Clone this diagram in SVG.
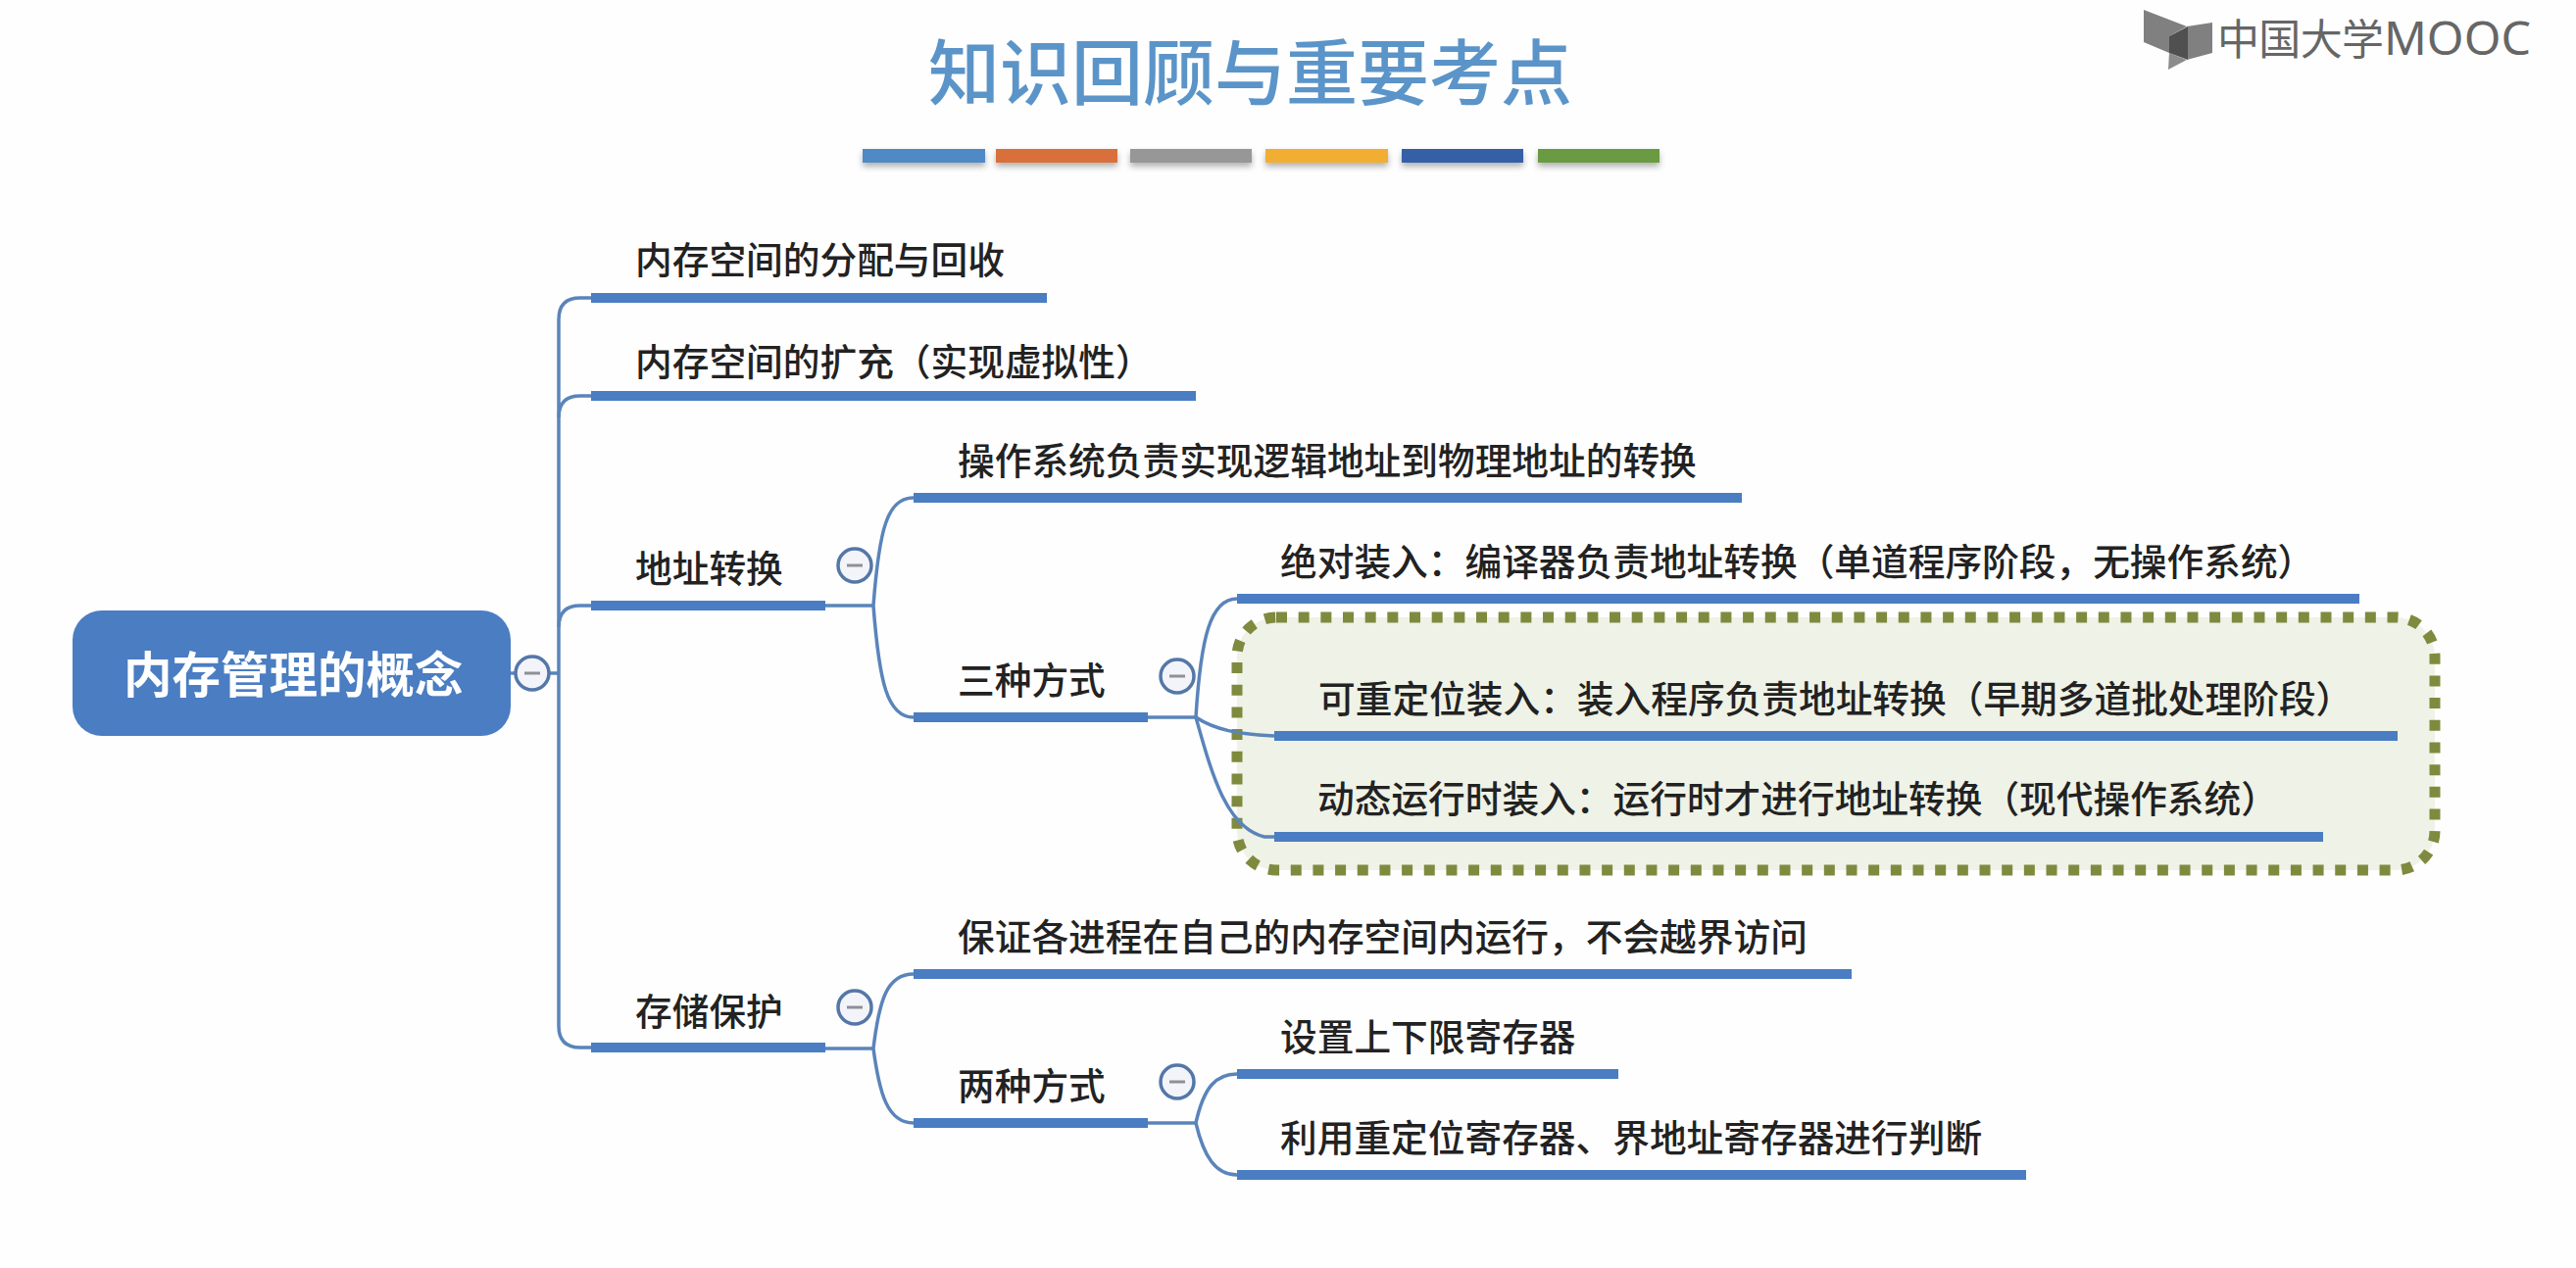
<svg xmlns="http://www.w3.org/2000/svg" width="2628" height="1294" viewBox="0 0 2628 1294">
<style>
text{font-family:"Noto Sans CJK SC","Noto Sans",sans-serif;}
.t{font-size:37.7px;fill:#222;font-weight:500;}
.bar{fill:none;stroke:#4a7dc2;stroke-width:10;}
.c{fill:none;stroke:#5a84ba;stroke-width:3.5;}
.tog{fill:#f3f4f9;stroke:#5477a8;stroke-width:3.5;}
.m{stroke:#8f8f96;stroke-width:3;}
</style>
<defs>
<filter id="sh" x="-10%" y="-50%" width="120%" height="220%"><feDropShadow dx="0" dy="4" stdDeviation="3" flood-color="#000" flood-opacity="0.3"/></filter>
</defs>
<rect width="2628" height="1294" fill="#fefefe"/>
<g id="title">
<text x="947" y="101" font-size="73" fill="#5b94c8" font-weight="500">知识回顾与重要考点</text>
<g filter="url(#sh)">
<rect x="880" y="152" width="125" height="14" fill="#4f8ac5"/>
<rect x="1016" y="152" width="124" height="14" fill="#d9703a"/>
<rect x="1153" y="152" width="124" height="14" fill="#979797"/>
<rect x="1291" y="152" width="125" height="14" fill="#f2ae33"/>
<rect x="1430" y="152" width="124" height="14" fill="#3560a8"/>
<rect x="1569" y="152" width="124" height="14" fill="#6b9a42"/>
</g>
</g>
<g id="logo">
<polygon points="2187,10 2231,27 2213,37 2213,54 2187,43" fill="#808080"/>
<polygon points="2231,27 2257,23 2257,54 2231,61" fill="#808080"/>
<polygon points="2213,54 2231,61 2212,71" fill="#8c8c8c"/>
<polygon points="2213,37 2232,27 2232,61 2213,54" fill="#505050"/>
<text x="2262" y="56" font-size="43" fill="#666" font-weight="400" textLength="170">中国大学</text>
<text x="2432" y="56" font-size="47" fill="#666" font-weight="400" textLength="150" lengthAdjust="spacingAndGlyphs" style="font-family:'Noto Sans',sans-serif">MOOC</text>
</g>
<g id="highlight">
<rect x="1262" y="630" width="1222" height="258" rx="40" ry="40" fill="#eff2e6" stroke="#7f8a3e" stroke-width="11" stroke-dasharray="11 11.67"/>
</g>
<g id="connectors">
<path class="c" d="M521 687H570"/>
<path class="c" d="M603 304H592Q570 304 570 326V1047Q570 1069 592 1069H603"/>
<path class="c" d="M570 426Q570 404 592 404H603"/>
<path class="c" d="M570 640Q570 618 592 618H603"/>
<path class="c" d="M842 618H891"/>
<path class="c" d="M932 508C905 508 897 540 891 618C897 696 905 732 932 732"/>
<path class="c" d="M1171 732H1220"/>
<path class="c" d="M1262 611C1235 611 1225 650 1220 732"/>
<path class="c" d="M1220 732C1240 745 1262 749 1300 751"/>
<path class="c" d="M1220 732C1235 785 1250 845 1290 854H1300"/>
<path class="c" d="M842 1070H891"/>
<path class="c" d="M932 994C905 994 897 1020 891 1070C897 1115 905 1146 932 1146"/>
<path class="c" d="M1171 1146H1220"/>
<path class="c" d="M1262 1096C1240 1096 1228 1110 1220 1146C1228 1180 1240 1199 1262 1199"/>
</g>
<g id="root">
<rect x="74" y="623" width="447" height="128" rx="30" fill="#4a7dc2"/>
<text x="126" y="707" font-size="49.5" font-weight="700" fill="#fff">内存管理的概念</text>
</g>
<g id="toggle-root"><circle class="tog" cx="543" cy="687" r="17"/><path class="m" d="M535 687H551"/></g>
<g id="n1"><text class="t" x="648" y="279">内存空间的分配与回收</text><path class="bar" d="M603 304H1068"/></g>
<g id="n2"><text class="t" x="648" y="383">内存空间的扩充（实现虚拟性）</text><path class="bar" d="M603 404H1220"/></g>
<g id="n3"><text class="t" x="648" y="594">地址转换</text><path class="bar" d="M603 618H842"/></g>
<g id="toggle-n3"><circle class="tog" cx="872" cy="577" r="17"/><path class="m" d="M864 577H880"/></g>
<g id="n31"><text class="t" x="977" y="484">操作系统负责实现逻辑地址到物理地址的转换</text><path class="bar" d="M932 508H1777"/></g>
<g id="n32"><text class="t" x="977" y="708">三种方式</text><path class="bar" d="M932 732H1171"/></g>
<g id="toggle-n32"><circle class="tog" cx="1201" cy="690" r="17"/><path class="m" d="M1193 690H1209"/></g>
<g id="n321"><text class="t" x="1306" y="587">绝对装入：编译器负责地址转换（单道程序阶段，无操作系统）</text><path class="bar" d="M1262 611H2407"/></g>
<g id="n322"><text class="t" x="1345" y="727">可重定位装入：装入程序负责地址转换（早期多道批处理阶段）</text><path class="bar" d="M1300 751H2446"/></g>
<g id="n323"><text class="t" x="1344" y="829">动态运行时装入：运行时才进行地址转换（现代操作系统）</text><path class="bar" d="M1300 854H2370"/></g>
<g id="n4"><text class="t" x="648" y="1046">存储保护</text><path class="bar" d="M603 1069H842"/></g>
<g id="toggle-n4"><circle class="tog" cx="872" cy="1028" r="17"/><path class="m" d="M864 1028H880"/></g>
<g id="n41"><text class="t" x="977" y="970">保证各进程在自己的内存空间内运行，不会越界访问</text><path class="bar" d="M932 994H1889"/></g>
<g id="n42"><text class="t" x="977" y="1122">两种方式</text><path class="bar" d="M932 1146H1171"/></g>
<g id="toggle-n42"><circle class="tog" cx="1201" cy="1104" r="17"/><path class="m" d="M1193 1104H1209"/></g>
<g id="n421"><text class="t" x="1306" y="1072">设置上下限寄存器</text><path class="bar" d="M1262 1096H1651"/></g>
<g id="n422"><text class="t" x="1306" y="1175">利用重定位寄存器、界地址寄存器进行判断</text><path class="bar" d="M1262 1199H2067"/></g>
</svg>
